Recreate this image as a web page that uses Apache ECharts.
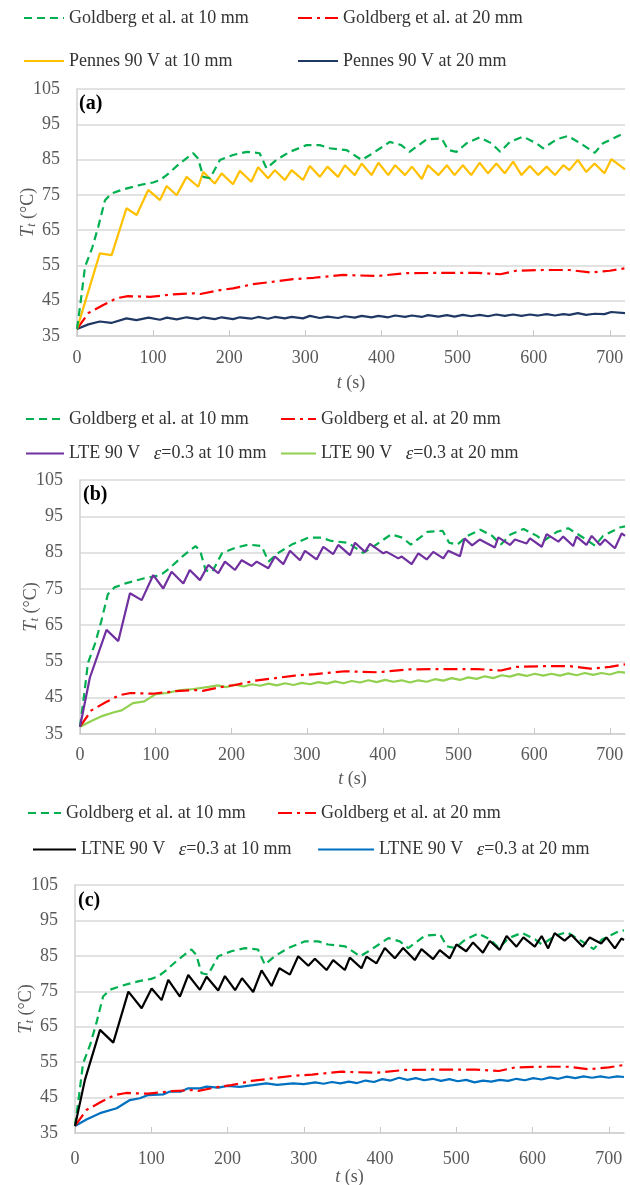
<!DOCTYPE html>
<html>
<head>
<meta charset="utf-8">
<script src="https://cdn.jsdelivr.net/npm/echarts/dist/echarts.min.js"></script>
<style>
html, body { margin: 0; padding: 0; background: #fff; }
#main { width: 630px; height: 1185px; }
</style>
</head>
<body>
<div id="main"></div>
<script>
// values: time t (s) and tip temperature (°C)
var goldberg10Time = [0, 5, 10.5, 20, 28, 36.8, 45.5, 60, 82.7, 100, 109, 117.8, 135, 152.7, 159, 166, 174.7, 187.8, 205, 222.9, 240, 249, 262, 279.7, 301.7, 319, 332, 354, 374, 385, 411, 426, 437, 459, 479, 487.7, 498.6, 511.8, 529, 544.6, 556, 568.7, 586, 603.7, 612.5, 630, 645, 665, 680.3, 691, 713, 720];
var goldberg10Temp = [37, 45, 54.6, 60, 66, 73.5, 75.4, 76.5, 77.8, 78.5, 79.2, 80.6, 83.9, 86.8, 85.3, 80.1, 79.7, 84.9, 86.3, 87.2, 86.8, 82.5, 84.9, 87.2, 89.1, 89.1, 88.2, 87.7, 84.9, 86.3, 90.0, 89.1, 87.2, 90.7, 91.0, 87.7, 87.2, 89.6, 91.3, 89.6, 87.2, 90.0, 91.5, 89.6, 88.2, 90.7, 91.7, 89.1, 86.9, 89.6, 91.9, 92.2];

var goldberg20Time = [0, 15, 34.5, 52, 67, 96, 126.5, 153, 162, 188, 205, 231.5, 258, 284, 311, 350, 394, 433, 481, 525, 556, 577, 612.5, 647, 674, 700, 720];
var goldberg20Temp = [37, 41.5, 43.8, 45.7, 46.3, 46.1, 46.8, 47.1, 46.9, 48.0, 48.5, 49.7, 50.4, 51.1, 51.5, 52.3, 52.0, 52.8, 52.9, 52.9, 52.5, 53.5, 53.7, 53.7, 53.0, 53.5, 54.2];

var pennes10Time = [0, 30, 45.5, 65, 78.4, 93.6, 109, 117.8, 130.9, 144, 159.3, 166, 181, 190, 205, 214, 229, 238, 251, 260, 273, 282, 297, 306, 319, 329, 343, 352, 365, 374, 387, 396, 409, 418, 431, 440, 453, 461, 475, 486, 496, 507, 518, 529, 540, 551, 562, 573, 584, 595, 606, 617, 628, 639, 647, 658, 669, 680, 693, 702, 720];
var pennes10Temp = [37, 58.4, 57.9, 71.2, 69.3, 76.4, 73.5, 77.5, 74.9, 80.1, 77.3, 81.5, 78.2, 81.1, 78.0, 81.8, 78.7, 82.8, 79.7, 82.0, 79.2, 82.0, 79.2, 83.2, 80.1, 83.0, 80.1, 83.4, 80.6, 83.9, 80.6, 84.1, 80.6, 83.4, 80.6, 83.0, 79.5, 83.4, 80.6, 83.4, 80.6, 83.4, 80.6, 84.1, 81.1, 83.9, 81.1, 84.4, 80.6, 83.2, 80.6, 83.0, 80.6, 83.4, 82.0, 84.9, 81.5, 83.9, 81.1, 85.1, 82.2];

var pennes20Time = [0, 15, 30, 45, 65, 78, 94, 109, 118, 131, 144, 159, 166, 181, 190, 205, 214, 229, 238, 251, 260, 273, 282, 297, 306, 319, 329, 343, 352, 365, 374, 387, 396, 409, 418, 431, 440, 453, 461, 475, 486, 496, 507, 518, 529, 540, 551, 562, 573, 584, 595, 606, 617, 628, 639, 647, 658, 669, 680, 693, 702, 720];
var pennes20Temp = [37, 38.3, 39.1, 38.7, 40.0, 39.5, 40.2, 39.6, 40.2, 39.7, 40.3, 39.8, 40.3, 39.8, 40.3, 39.8, 40.3, 39.9, 40.4, 39.9, 40.4, 40.0, 40.4, 40.0, 40.7, 40.1, 40.5, 40.1, 40.6, 40.2, 40.7, 40.3, 40.7, 40.3, 40.8, 40.4, 40.8, 40.4, 40.9, 40.5, 40.9, 40.5, 41.0, 40.6, 41.0, 40.6, 41.1, 40.7, 41.1, 40.7, 41.1, 40.8, 41.2, 40.8, 41.2, 41.0, 41.5, 41.0, 41.3, 41.2, 41.8, 41.5];

var lte10Time = [0, 13, 35, 50.6, 66, 81.5, 96.8, 110, 121, 136.5, 145, 158.5, 169.5, 182.7, 191.5, 204.8, 213.6, 226.8, 233.4, 248.8, 257.6, 268.6, 277.4, 290.6, 297.2, 312.6, 321.4, 334.6, 341.2, 356.7, 363.3, 376.5, 383.1, 400.7, 405.1, 420.5, 425, 438.2, 447, 458, 466.7, 480, 486.5, 502, 508, 518, 528, 548, 552.6, 568, 574.6, 590, 594.5, 610, 616.5, 632, 638.4, 651.6, 656, 669, 676, 687, 693.5, 706.7, 715.6, 720];
var lte10Temp = [37, 50.5, 63.7, 60.6, 73.8, 71.9, 78.8, 75.1, 79.7, 76.5, 80.2, 77.4, 81.6, 79.3, 82.5, 80.2, 82.9, 81.3, 82.5, 80.7, 83.9, 81.8, 85.5, 82.9, 85.5, 83.1, 86.6, 84.6, 87.1, 84.3, 87.7, 85.2, 87.4, 84.8, 85.2, 83.4, 83.9, 81.8, 84.8, 83.1, 85.2, 83.4, 85.5, 84.0, 88.9, 87.0, 88.6, 86.4, 89.2, 87.1, 88.6, 87.5, 88.9, 86.6, 90.1, 88.0, 89.4, 86.8, 89.4, 87.1, 89.6, 87.1, 88.6, 86.2, 90.3, 89.6];

var lte20Time = [0, 15, 30, 45, 55, 70, 85, 100, 115, 130, 150, 170, 182, 193, 205, 216, 227, 238, 249, 260, 271, 282, 293, 304, 315, 326, 337, 348, 359, 370, 381, 392, 403, 414, 425, 436, 447, 458, 469, 480, 491, 502, 513, 524, 535, 546, 557, 568, 579, 590, 601, 612, 623, 634, 645, 656, 667, 678, 689, 700, 711, 720];
var lte20Temp = [37, 38.6, 40.0, 41.0, 41.5, 43.5, 44.0, 46.0, 46.3, 47.0, 47.4, 48.0, 48.4, 47.9, 48.6, 48.1, 48.7, 48.3, 48.9, 48.4, 49.0, 48.5, 49.1, 48.7, 49.3, 48.9, 49.5, 49.0, 49.6, 49.2, 49.8, 49.3, 49.9, 49.4, 49.8, 49.2, 49.8, 49.4, 50.1, 49.7, 50.4, 49.9, 50.6, 50.2, 50.9, 50.4, 51.2, 50.8, 51.5, 51.0, 51.6, 51.1, 51.6, 51.1, 51.7, 51.2, 51.8, 51.3, 51.8, 51.4, 52.1, 51.9];

var ltne10Time = [0, 13, 32.8, 50.2, 70, 87.4, 100.5, 113.6, 122.3, 137.6, 148.5, 163.8, 172.6, 187.8, 196.6, 210, 219, 233.7, 244.7, 257.8, 268, 281.8, 292.7, 306, 314.6, 329.9, 338.6, 353.9, 360.4, 375.7, 382.3, 395.4, 406.3, 419.4, 430.3, 445.6, 454.4, 469.7, 478.4, 491.5, 500.3, 513, 522, 535, 544, 557, 566, 579, 588, 603, 612, 620.5, 629, 642, 651, 666, 675, 690, 697, 708, 716.6, 720];
var ltne10Temp = [37, 50, 64.1, 60.5, 74.9, 70.2, 75.8, 72.5, 78.2, 73.5, 79.6, 75.4, 79.1, 75.2, 79.3, 75.3, 78.7, 74.8, 80.9, 76.5, 81.5, 79.7, 84.9, 82.2, 84.2, 81.0, 83.8, 81.0, 84.5, 81.5, 84.8, 82.9, 87.2, 84.3, 87.2, 83.8, 86.9, 84.1, 86.6, 84.3, 88.2, 86.3, 88.8, 85.9, 89.2, 86.7, 90.6, 87.6, 90.2, 87.6, 90.6, 87.1, 91.4, 89.3, 90.9, 87.6, 90.2, 88.5, 90.2, 87.1, 89.9, 89.5];

var ltne20Time = [0, 15, 32.8, 54.7, 72, 85, 96, 115.7, 124.5, 139, 148.5, 163.8, 172.6, 188, 200, 216, 233.7, 251, 265, 286, 300, 315, 326, 337, 348, 359, 370, 381, 392, 403, 414, 425, 436, 447, 458, 469, 480, 491, 502, 513, 524, 535, 546, 557, 568, 579, 590, 601, 612, 623, 634, 645, 656, 667, 678, 689, 700, 711, 720];
var ltne20Temp = [37, 38.8, 40.6, 42.0, 44.3, 44.8, 45.7, 45.9, 46.7, 46.7, 47.6, 47.6, 48.1, 47.8, 48.3, 48.0, 48.5, 49.0, 48.6, 49.0, 48.8, 49.3, 48.9, 49.4, 49.0, 49.5, 49.1, 49.8, 49.4, 50.2, 49.8, 50.6, 50.0, 50.5, 49.9, 50.3, 49.7, 50.2, 49.6, 50.0, 49.3, 49.8, 49.5, 50.0, 49.7, 50.3, 49.9, 50.5, 50.1, 50.7, 50.3, 50.9, 50.5, 51.0, 50.6, 51.0, 50.6, 51.0, 50.8];

var xTicks = [0, 720, 100];      // min, max, interval (s)
var yTicks = [35, 105, 10];      // min, max, interval (°C)

var GOLD10 = 'Goldberg et al. at 10 mm';
var GOLD20 = 'Goldberg et al. at 20 mm';
var PEN10 = 'Pennes 90 V at 10 mm';
var PEN20 = 'Pennes 90 V at 20 mm';
var LTE10 = 'LTE 90 V   ε=0.3 at 10 mm';
var LTE20 = 'LTE 90 V   ε=0.3 at 20 mm';
var LTNE10 = 'LTNE 90 V   ε=0.3 at 10 mm';
var LTNE20 = 'LTNE 90 V   ε=0.3 at 20 mm';

var serif = 'Liberation Serif';
var grey = '#595959';

function pairs(ts, vs) {
    return ts.map(function (t, i) { return [t, vs[i]]; });
}

function line(name, idx, ts, vs, color, type) {
    return {
        name: name,
        type: 'line',
        xAxisIndex: idx,
        yAxisIndex: idx,
        data: pairs(ts, vs),
        symbol: 'none',
        smooth: false,
        lineStyle: {color: color, width: 2.2, type: type || 'solid'},
        itemStyle: {color: color}
    };
}

function legendItem(name, left, top, w) {
    return {
        data: [name],
        left: left,
        top: top,
        padding: 0,
        itemWidth: w,
        itemHeight: 14,
        selectedMode: false,
        itemStyle: {opacity: 0},
        formatter: function (n) {
            return n.replace('ε', '{e|ε}');
        },
        textStyle: {
            fontFamily: serif, fontSize: 18, color: '#333',
            rich: {e: {fontFamily: serif, fontStyle: 'italic', fontSize: 19, color: '#333'}}
        }
    };
}

function xAx(idx, margin, gap) {
    return {
        gridIndex: idx,
        type: 'value',
        min: xTicks[0], max: xTicks[1], interval: xTicks[2],
        name: '{i|t} (s)',
        nameLocation: 'middle',
        nameGap: gap,
        nameMoveOverlap: false,
        nameTextStyle: {
            fontFamily: serif, fontSize: 18, color: grey,
            rich: {i: {fontFamily: serif, fontStyle: 'italic', fontSize: 18, color: grey}}
        },
        axisLine: {lineStyle: {color: '#d0d0d0', width: 1.5}},
        axisTick: {inside: true, length: 6, lineStyle: {color: '#c8c8c8'}},
        axisLabel: {fontFamily: serif, fontSize: 18, color: grey, margin: margin, showMaxLabel: false},
        splitLine: {show: false}
    };
}

function yAx(idx) {
    return {
        gridIndex: idx,
        type: 'value',
        min: yTicks[0], max: yTicks[1], interval: yTicks[2],
        name: '{i|T}{s|t} (°C)',
        nameLocation: 'middle',
        nameGap: 39,
        nameMoveOverlap: false,
        nameTextStyle: {
            fontFamily: serif, fontSize: 18, color: grey,
            rich: {
                i: {fontFamily: serif, fontStyle: 'italic', fontSize: 19, color: grey},
                s: {fontFamily: serif, fontStyle: 'italic', fontSize: 12, color: grey, verticalAlign: 'bottom', padding: [8, 0, 0, 0]}
            }
        },
        axisLine: {show: true, lineStyle: {color: '#d0d0d0', width: 1.5}},
        axisTick: {show: false},
        axisLabel: {fontFamily: serif, fontSize: 18, color: grey, margin: 17},
        splitLine: {lineStyle: {color: '#d9d9d9', width: 1.5}}
    };
}

var mychart = echarts.init(document.getElementById('main'));

var option = {
    animation: false,
    backgroundColor: '#fff',
    title: [
        {text: '(a)', left: 79, top: 94, padding: 0, textStyle: {fontFamily: serif, fontSize: 20, fontWeight: 'bold', color: '#000'}},
        {text: '(b)', left: 83, top: 485, padding: 0, textStyle: {fontFamily: serif, fontSize: 20, fontWeight: 'bold', color: '#000'}},
        {text: '(c)', left: 78, top: 891, padding: 0, textStyle: {fontFamily: serif, fontSize: 20, fontWeight: 'bold', color: '#000'}}
    ],
    legend: [
        legendItem(GOLD10, 23, 9, 40),
        legendItem(GOLD20, 297, 9, 40),
        legendItem(PEN10, 23, 52, 40),
        legendItem(PEN20, 297, 52, 40),
        legendItem(GOLD10, 25, 410, 38),
        legendItem(GOLD20, 280, 410, 35),
        legendItem(LTE10, 25, 444, 38),
        legendItem(LTE20, 280, 444, 35),
        legendItem(GOLD10, 27, 804, 33),
        legendItem(GOLD20, 277, 804, 38),
        legendItem(LTNE10, 32, 840, 43),
        legendItem(LTNE20, 317, 840, 56)
    ],
    grid: [
        {left: 77, right: 5, top: 89, height: 247, outerBoundsMode: 'none'},
        {left: 80, right: 5, top: 480, height: 254, outerBoundsMode: 'none'},
        {left: 75, right: 6, top: 885, height: 248, outerBoundsMode: 'none'}
    ],
    xAxis: [xAx(0, 13, 38), xAx(1, 12, 36), xAx(2, 17, 35)],
    yAxis: [yAx(0), yAx(1), yAx(2)],
    series: [
        line(PEN20, 0, pennes20Time, pennes20Temp, '#1f3864'),
        line(GOLD20, 0, goldberg20Time, goldberg20Temp, '#ff0000', [14, 5, 3, 5]),
        line(PEN10, 0, pennes10Time, pennes10Temp, '#ffc000'),
        line(GOLD10, 0, goldberg10Time, goldberg10Temp, '#00b050', [8, 5]),

        line(LTE20, 1, lte20Time, lte20Temp, '#92d050'),
        line(GOLD20, 1, goldberg20Time, goldberg20Temp, '#ff0000', [14, 5, 3, 5]),
        line(GOLD10, 1, goldberg10Time, goldberg10Temp, '#00b050', [8, 5]),
        line(LTE10, 1, lte10Time, lte10Temp, '#7030a0'),

        line(LTNE20, 2, ltne20Time, ltne20Temp, '#0070c0'),
        line(GOLD20, 2, goldberg20Time, goldberg20Temp, '#ff0000', [14, 5, 3, 5]),
        line(GOLD10, 2, goldberg10Time, goldberg10Temp, '#00b050', [8, 5]),
        line(LTNE10, 2, ltne10Time, ltne10Temp, '#000000')
    ]
};

mychart.setOption(option);
</script>
</body>
</html>
